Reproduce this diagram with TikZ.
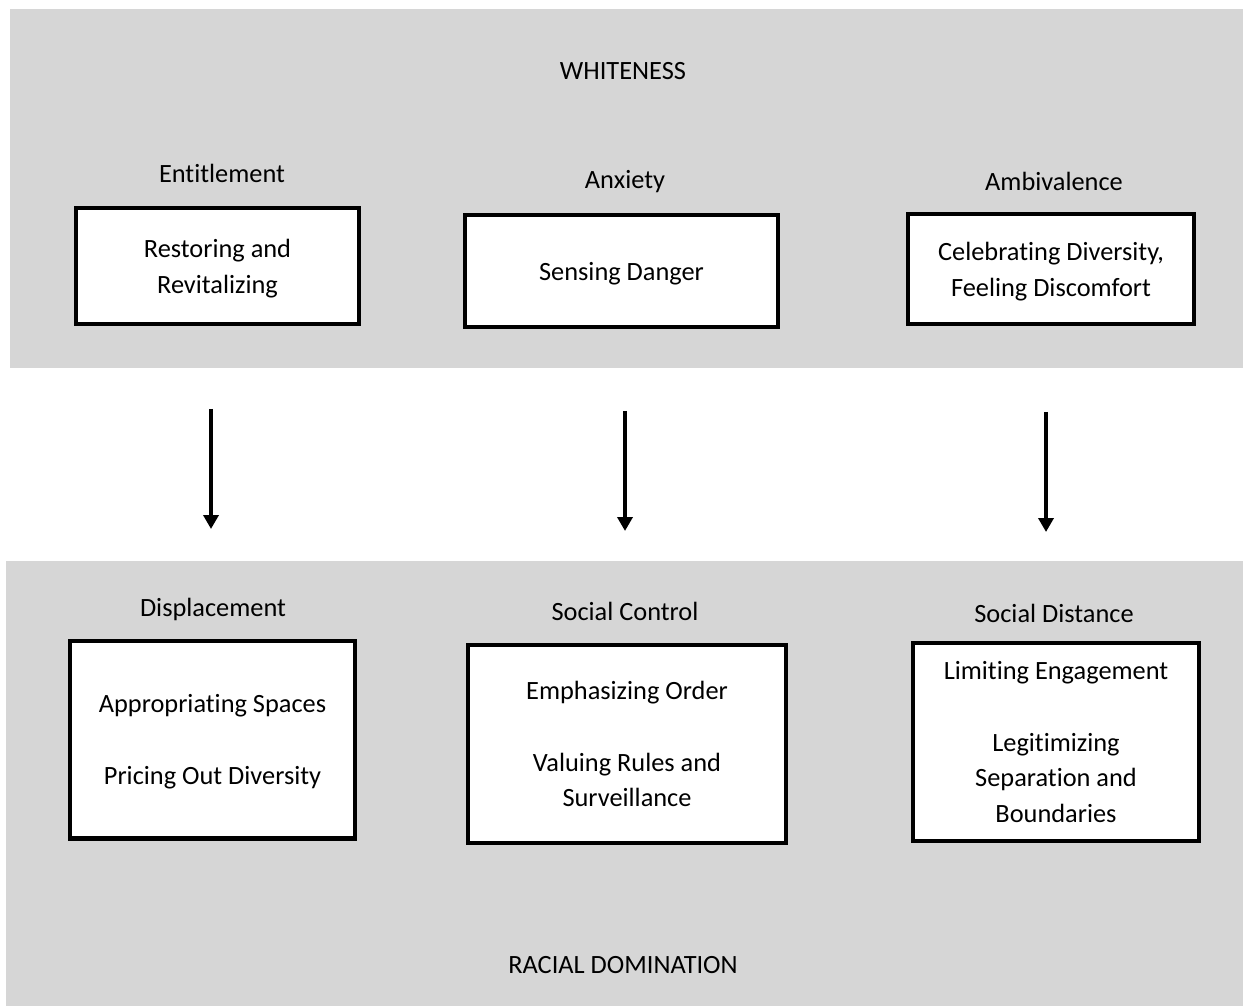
\documentclass[tikz,border=0pt]{standalone}
\usepackage{fontspec}
\setmainfont{Carlito}[Ligatures=NoCommon]
\usetikzlibrary{arrows.meta, positioning}
\definecolor{bandgray}{HTML}{D6D6D6}
\tikzset{
    band/.style = {fill=bandgray, draw=none},
    factor/.style = {draw=black, fill=white, line width=2.3pt, align=center,
        inner sep=0pt, text depth=0pt, font=\fontsize{15}{20.4}\selectfont},
    heading/.style = {inner sep=0pt, text depth=0pt, font=\fontsize{15}{20.4}\selectfont},
    flow/.style = {line width=2.3pt, -{Triangle[width=0.3cm, length=0.28cm]}},
}

\begin{document}
\begin{tikzpicture}[x=0.02cm, y=-0.02cm]
            \useasboundingbox (0,0) rectangle (1243,1006);
            % the two bands
            \fill[band] (10,9) rectangle (1243,368);
            \fill[band] (6,561) rectangle (1243,1006);
            \node (white) [heading] at (623,71) {WHITENESS};
            \node (racial) [heading] at (623,965) {RACIAL DOMINATION};
            % upper row
            \node (restore) [factor, minimum width=5.66cm, minimum height=2.32cm] at (217.5,266)
                {Restoring and\\Revitalizing};
            \node (danger) [factor, minimum width=6.26cm, minimum height=2.24cm] at (621.5,271)
                {Sensing Danger};
            \node (celebr) [factor, minimum width=5.72cm, minimum height=2.2cm] at (1051,269)
                {Celebrating Diversity,\\Feeling Discomfort};
            \node (entit) [heading] at (222,173) {Entitlement};
            \node (anx) [heading] at (625,179) {Anxiety};
            \node (ambiv) [heading] at (1054,181) {Ambivalence};
            % lower row
            \node (approp) [factor, minimum width=5.7cm, minimum height=3.96cm] at (212.5,739.5)
                {Appropriating Spaces\\[20.4pt]Pricing Out Diversity};
            \node (order) [factor, minimum width=6.36cm, minimum height=3.96cm] at (627,744)
                {Emphasizing Order\\[20.4pt]Valuing Rules and\\Surveillance};
            \node (limit) [factor, minimum width=5.72cm, minimum height=3.96cm] at (1056,742)
                {Limiting Engagement\\[20.4pt]Legitimizing\\Separation and\\Boundaries};
            \node (displ) [heading] at (213,607) {Displacement};
            \node (sctrl) [heading] at (625,611) {Social Control};
            \node (sdist) [heading] at (1054,613) {Social Distance};
            % arrows between the bands
            \coordinate (a1) at (211,409);
            \coordinate (b1) at (211,529);
            \coordinate (a2) at (625,411);
            \coordinate (b2) at (625,531);
            \coordinate (a3) at (1046,412);
            \coordinate (b3) at (1046,532);
            \draw[flow] (a1) -- (b1);
            \draw[flow] (a2) -- (b2);
            \draw[flow] (a3) -- (b3);
\end{tikzpicture}
\end{document}
